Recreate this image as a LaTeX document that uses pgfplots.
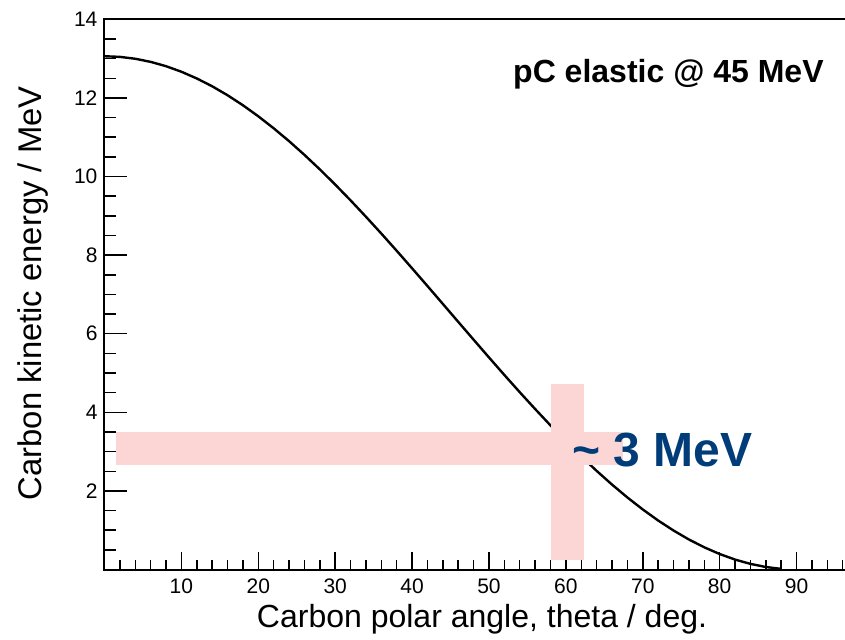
\documentclass[border=0pt]{standalone}
\usepackage{fontspec}
\setmainfont{Liberation Sans}
\usepackage{pgfplots}
\pgfplotsset{compat=1.18}
\definecolor{bandpink}{RGB}{252,213,213}
\definecolor{annblue}{RGB}{0,60,120}
\begin{document}
\begin{tikzpicture}
\begin{axis}[
  scale only axis,
  width=376.8pt, height=275.1pt,
  xmin=0, xmax=98, ymin=0, ymax=14,
  xtick={10,20,...,90},
  minor xtick={2,4,...,96},
  ytick={2,4,...,14},
  minor ytick={0.5,1,...,13.5},
  tick pos=left,
  tick align=inside,
  major tick length=10pt,
  minor tick length=5.5pt,
  xtick style={/pgfplots/major tick length=8.8pt, /pgfplots/minor tick length=5pt},
  ytick style={/pgfplots/major tick length=11.3pt, /pgfplots/minor tick length=5.8pt},
  axis line style={line width=1pt},
  every tick/.style={black, line width=0.75pt},
  /pgf/number format/assume math mode=true,
  tick label style={font=\fontsize{10.5}{12}\selectfont},
  xticklabel style={yshift=-1.2pt},
  xlabel={Carbon polar angle, theta / deg.},
  ylabel={Carbon kinetic energy / MeV},
  label style={font=\fontsize{16}{19}\selectfont},
  xlabel style={at={(rel axis cs:0.501,-0.1045)}, anchor=base},
  ylabel style={at={(rel axis cs:-0.083,0.502)}, anchor=base, font=\fontsize{16.4}{19}\selectfont},
  clip=true,
]
\coordinate (O) at (rel axis cs:0,0);
\addplot[black, line width=1.2pt] coordinates {
(0,13.06) (2,13.044) (4,12.996) (6,12.917) (8,12.807) (10,12.666) (12,12.495)
(14,12.296) (16,12.068) (18,11.813) (20,11.532) (22,11.227) (24,10.900)
(26,10.550) (28,10.182) (30,9.795) (32,9.393) (34,8.976) (36,8.548)
(38,8.110) (40,7.664) (42,7.213) (44,6.758) (46,6.302) (48,5.848)
(50,5.396) (52,4.950) (54,4.512) (56,4.084) (58,3.667) (60,3.265)
(62,2.878) (64,2.510) (66,2.161) (68,1.833) (70,1.528) (72,1.247)
(74,0.992) (76,0.764) (78,0.565) (80,0.394) (82,0.253) (84,0.143)
(86,0.064) (88,0.016)
};
\addplot[fill=bandpink, draw=none] coordinates {(1.46,2.67) (67.4,2.67) (67.4,3.51) (1.46,3.51)} -- cycle;
\addplot[fill=bandpink, draw=none] coordinates {(58.06,0.24) (62.4,0.24) (62.4,4.72) (58.06,4.72)} -- cycle;
\node[anchor=base west, inner sep=0pt, text=annblue, font=\fontsize{24}{28}\selectfont\bfseries] at (axis cs:60.8,2.62) {\textasciitilde\ 3 MeV};
\node[anchor=base west, inner sep=0pt, font=\fontsize{16}{19}\selectfont\bfseries] at (axis cs:53.1,12.39) {pC elastic @ 45 MeV};
\end{axis}
\pgfresetboundingbox
\path[use as bounding box] (O) ++(-52.25pt,-34.75pt) rectangle ++(422.5pt,319.5pt);
\end{tikzpicture}
\end{document}
